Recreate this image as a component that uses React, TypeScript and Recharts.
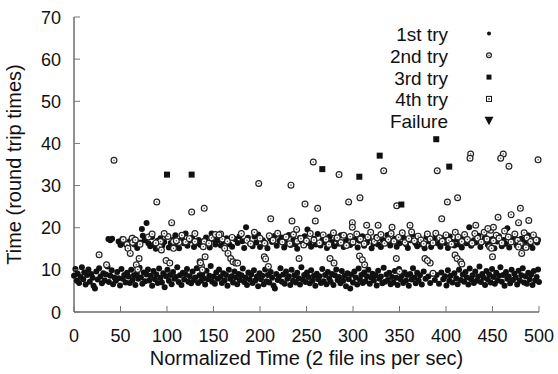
import React from 'react';
import { ScatterChart, Scatter, XAxis, YAxis, Legend, Label } from 'recharts';

type Pt = [number, number];

const xTicks = [0, 50, 100, 150, 200, 250, 300, 350, 400, 450, 500];
const yTicks = [0, 10, 20, 30, 40, 50, 60, 70];
const seriesNames = ['1st try', '2nd try', '3rd try', '4th try', 'Failure'];

// 1st try, lower band (~8 round trips)
const firstTryLow: Pt[] = [
  [0,8.6],[1.5,10.2],[3,7.4],[4,9.1],[5.5,6.9],[7,8.3],[8.5,10.6],[10,7.8],[11,9.4],[12.5,6.5],[14,8.8],[15.5,10.1],[17,7.2],[18.5,9.0],
  [20,8.1],[21,6.2],[22.5,5.6],[24,9.6],[25.5,7.7],[27,10.4],[28.5,8.4],[30,6.8],[31.5,9.2],[33,7.5],[34.5,8.9],[36,10.8],[37.5,7.1],[39,8.6],
  [40.5,9.9],[42,6.6],[43.5,8.2],[45,7.4],[46.5,9.5],[48,8.0],[49.5,6.3],[51,10.2],[52.5,7.9],[54,8.8],[55.5,7.0],[57,9.3],[58.5,8.4],[60,6.9],
  [61.5,10.0],[63,7.6],[64.5,8.7],[66,6.4],[67.5,9.1],[69,7.9],[70.5,10.5],[72,8.2],[73.5,6.7],[75,9.4],[76.5,7.3],[78,8.9],[79.5,10.1],
  [81,7.5],[82.5,8.6],[84,6.2],[85.5,9.7],[87,7.8],[88.5,8.9],[90,6.9],[91.5,10.3],[93,8.1],[94.5,7.0],[96,9.2],[97.5,5.9],[99,8.5],
  [100.5,10.0],[102,7.4],[103.5,8.8],[105,6.6],[106.5,9.5],[108,7.9],[109.5,8.3],[111,10.6],[112.5,7.1],[114,8.7],[115.5,6.4],[117,9.3],[118.5,7.7],
  [120,8.9],[121.5,10.2],[123,7.2],[124.5,8.5],[126,6.8],[127.5,9.6],[129,7.6],[130.5,8.2],[132,10.4],[133.5,6.9],[135,8.7],[136.5,7.4],[138,9.1],[139.5,8.0],
  [141,6.5],[142.5,9.8],[144,7.8],[145.5,8.6],[147,10.9],[148.5,7.2],[150,8.4],[151.5,6.7],[153,9.4],[154.5,7.9],[156,10.1],[157.5,8.3],[159,6.9],
  [160.5,9.2],[162,7.5],[163.5,8.8],[165,6.2],[166.5,10.0],[168,7.9],[169.5,8.5],[171,7.0],[172.5,9.6],[174,8.2],[175.5,6.6],[177,9.0],[178.5,7.6],
  [180,8.7],[181.5,10.3],[183,7.1],[184.5,8.2],[186,6.4],[187.5,9.4],[189,7.7],[190.5,8.9],[192,6.9],[193.5,9.9],[195,7.5],[196.5,8.4],[198,6.1],[199.5,9.2],
  [201,7.8],[202.5,8.6],[204,6.6],[205.5,10.1],[207,7.3],[208.5,8.8],[210,7.0],[211.5,9.5],[213,8.1],[214.5,6.3],[216,5.6],[217.5,9.0],[219,7.6],
  [220.5,8.4],[222,10.4],[223.5,7.2],[225,8.9],[226.5,6.7],[228,9.6],[229.5,7.9],[231,8.5],[232.5,6.4],[234,10.0],[235.5,7.4],[237,8.7],[238.5,7.0],
  [240,9.3],[241.5,8.0],[243,6.5],[244.5,10.6],[246,7.7],[247.5,8.8],[249,7.1],[250.5,9.4],[252,8.3],[253.5,6.8],[255,9.9],[256.5,7.5],[258,8.6],[259.5,6.2],
  [261,9.1],[262.5,7.8],[264,8.5],[265.5,6.9],[267,10.2],[268.5,7.3],[270,8.8],[271.5,6.6],[273,9.5],[274.5,8.0],[276,7.2],[277.5,9.0],[279,6.4],
  [280.5,8.7],[282,10.1],[283.5,7.6],[285,8.3],[286.5,6.8],[288,9.7],[289.5,7.4],[291,8.6],[292.5,6.1],[294,9.2],[295.5,7.8],[297,5.6],[298.5,8.9],
  [300,7.0],[301.5,9.6],[303,8.2],[304.5,6.5],[306,10.3],[307.5,7.7],[309,8.8],[310.5,6.9],[312,9.4],[313.5,7.3],[315,8.5],[316.5,10.0],[318,6.7],[319.5,8.1],
  [321,9.1],[322.5,7.5],[324,8.7],[325.5,6.3],[327,9.8],[328.5,7.9],[330,8.4],[331.5,6.8],[333,10.5],[334.5,7.2],[336,8.9],[337.5,7.6],[339,9.3],
  [340.5,6.6],[342,8.3],[343.5,7.0],[345,9.7],[346.5,8.1],[348,6.4],[349.5,10.2],[351,7.8],[352.5,8.6],[354,6.9],[355.5,9.4],[357,7.4],[358.5,8.8],
  [360,6.2],[361.5,9.0],[363,7.7],[364.5,10.4],[366,8.2],[367.5,6.8],[369,9.3],[370.5,7.5],[372,8.7],[374,6.5],[376,9.6],[378,7.9],
  [381,8.4],[383,6.9],[385.5,9.1],[388,7.6],[390,8.8],[392.5,6.7],[395,9.4],[397,7.8],[399,8.5],
  [400.5,6.3],[402,9.9],[403.5,7.4],[405,8.6],[407,7.0],[409,9.2],[411,8.0],[412.5,6.6],[414,10.0],[416,7.6],[418,8.9],[419.5,7.2],
  [421,9.5],[422.5,8.2],[424,6.5],[425.5,10.3],[427,7.8],[428.5,8.7],[430,6.9],[431.5,9.6],[433,7.4],[434.5,8.4],[436,10.8],[437.5,7.1],[439,9.0],
  [440.5,8.1],[442,6.4],[443.5,9.7],[445,7.7],[446.5,8.9],[448,7.0],[449.5,10.2],[451,8.3],[452.5,6.7],[454,9.3],[455.5,7.5],[457,8.6],[458.5,10.6],
  [460,7.2],[461.5,8.8],[463,6.2],[464.5,9.5],[466,7.9],[467.5,8.4],[469,6.8],[470.5,10.0],[472,7.6],[473.5,9.1],[475,8.2],[476.5,6.5],[478,9.8],[479.5,7.4],
  [481,8.7],[482.5,10.4],[484,7.0],[485.5,8.5],[487,6.7],[488.5,9.3],[490,7.8],[491.5,8.9],[493,6.4],[494.5,9.7],[496,7.5],[497.5,8.3],[499,10.1],[500,7.1],
];

// 1st try, upper band (~16 round trips)
const firstTryHigh: Pt[] = [
  [37,17.3],[39,17.0],[41,17.4],[48,16.7],[50,15.9],[52,17.3],[55,16.2],[58,15.4],[60,16.8],[63,17.6],[65,16.0],[68,15.2],[71,16.5],[73,19.7],[74,18.1],
  [76,17.0],[78,21.1],[80,16.3],[82,15.6],[84,17.8],[86,16.1],[88,15.0],[90,16.9],[93,17.5],[95,15.8],[97,16.6],[100,17.9],[102,15.3],[104,16.4],
  [107,17.2],[109,18.2],[111,16.0],[113,15.1],[116,17.4],[118,16.3],[120,18.6],[122,15.7],[124,16.9],[127,17.6],[129,15.4],[131,16.2],[134,17.1],
  [136,15.9],[139,16.8],[142,17.7],[144,16.4],[146,15.3],[148,18.6],[150,17.2],[152,16.0],[155,17.0],[158,15.8],[161,16.7],[164,17.5],[167,16.1],
  [170,15.5],[173,17.3],[176,16.4],[178,18.0],[181,16.8],[183,15.2],[185,20.1],[187,17.6],[189,16.3],[192,15.6],[194,17.9],[196,16.5],[198,18.4],
  [200,15.4],[203,17.0],[206,16.2],[208,15.1],[211,17.4],[213,16.6],[216,18.1],[218,15.7],[221,16.9],[223,17.7],[226,15.3],[228,16.4],[231,18.3],
  [233,15.9],[236,17.2],[238,16.1],[240,15.0],[243,17.6],[245,16.7],[248,18.0],[251,19.6],[253,16.3],[255,15.5],[258,17.4],[260,16.0],[262,18.5],
  [265,15.8],[267,17.1],[270,16.5],[272,15.2],[275,17.9],[277,16.6],[280,15.6],[282,17.3],[285,16.2],[287,18.2],[290,15.4],[292,16.8],[295,17.6],
  [297,15.9],[300,16.4],[302,17.2],[305,15.3],[307,16.9],[310,18.0],[312,15.7],[315,16.5],[317,17.5],[320,15.1],[322,16.2],[325,17.8],[327,16.0],
  [330,15.4],[332,17.1],[335,16.6],[337,18.3],[340,15.8],[342,16.9],[345,17.4],[347,15.5],[350,16.3],[354,17.7],[357,16.1],[359,15.2],[362,17.0],
  [364,18.4],[367,16.4],[369,15.6],[372,17.3],[374,16.0],[377,15.1],[379,17.8],[382,16.7],[384,15.4],[387,17.1],[389,18.2],[392,16.2],[394,15.5],
  [397,17.5],[399,16.4],[402,15.2],[404,17.9],[407,16.6],[409,15.8],[412,17.2],[414,16.0],[417,15.3],[419,17.6],[422,16.3],[425,20.1],[427,15.7],
  [430,17.0],[432,16.5],[435,18.1],[437,15.4],[440,16.8],[442,17.7],[445,15.9],[447,16.4],[450,17.3],[452,15.1],[455,16.7],[457,18.0],[460,15.6],
  [462,17.1],[464,16.2],[466,19.9],[468,15.3],[471,16.9],[473,17.6],[476,15.8],[478,16.4],[481,17.4],[483,15.5],[486,16.8],[488,18.2],[491,16.0],
  [493,15.2],[496,17.3],[498,16.5],[499,17.1],
];

// 2nd try, on and around the upper band
const secondTryBand: Pt[] = [
  [53,17.2],[57,16.0],[58,15.1],[60.5,13.9],[62.5,17.5],[63,16.5],[66,17.1],[71,16.1],[70,12.7],[67,11.2],[68.5,10.1],
  [93,16.7],[92,15.5],[94,14.7],[99,12.2],[103,11.6],[107,16.7],[107,15.1],[113,16.5],
  [130,16.7],[135.5,11.9],[137,11.0],[138,10.0],[141,13.1],[140,16.7],[139,15.5],[136,11.7],
  [157.7,18.5],[159.5,17.3],[162,15.1],[165.6,13.9],[168.5,12.7],[171,11.9],[174,11.6],
  [80,17.8],[84,18.5],[88,16.4],[101,17.9],[110,16.9],[116,18.2],[120,16.6],[124,17.4],[145,16.3],[148,17.6],[152,18.4],[165,16.8],[170,17.7],
  [180,18.6],[186,17.0],[190,16.2],[194,18.9],[200,17.5],[205,16.3],[210,18.1],[214,17.0],[219,18.7],[224,16.6],[228,17.8],[232,16.2],[236,18.4],
  [240,16.8],[244,17.4],[247,15.9],[250,16.9],[254,18.6],[258,17.1],[264,16.4],[268,18.3],[271,17.2],[274,16.0],[279,18.8],[283,17.6],[287,16.5],
  [290,18.2],[293,15.8],[297,17.9],[300,16.6],[304,18.5],[308,17.3],[312,16.2],[316,17.8],[319,18.9],[323,16.7],[326,17.6],[330,18.4],[334,16.3],
  [338,17.2],[341,18.6],[344,16.8],[349,17.7],[353,18.8],[356,16.5],[360,17.4],[363,19.0],[366,16.9],[370,18.0],[373,17.1],[376,16.2],[380,18.5],
  [383,17.3],[386,16.4],[389,18.7],[393,17.6],[396,16.8],[400,18.3],[403,17.0],[406,16.1],[410,18.9],[413,17.8],[417,16.7],[420,18.4],[423,17.2],
  [428,16.3],[431,18.6],[434,17.5],[438,16.6],[441,18.9],[444,17.3],[448,19.4],[451,16.9],[454,18.2],[457,17.5],[460,16.4],[463,19.2],[467,17.8],
  [470,16.6],[474,18.5],[477,17.0],[480,16.2],[484,18.8],[487,17.6],[491,16.7],[494,18.3],[497,17.1],
  [451,20.1],[432,20.6],[445,19.8],[447,15.5],[449,15.1],[478,15.4],[486,15.3],
];

// 2nd try, scattered points away from the band
const secondTryOutliers: Pt[] = [
  [43,36.0],[89,26.1],[27,13.6],[35,11.2],[105,21.2],[126.5,23.7],[140,24.6],[97,18.6],[130,18.6],[156,18.3],
  [198.6,30.5],[233.3,30.1],[257.3,35.6],[248.4,25.6],[262,24.6],[211.5,22.1],[234.4,21.6],[259.5,21.6],[239.4,19.6],
  [242,12.7],[209,10.8],[204.6,13.1],[206,12.6],[176,11.6],[285,32.6],[333,33.5],[295.3,26.1],[307.5,27.1],[347,25.2],
  [299.3,21.2],[299.3,20.1],[314.7,20.6],[327,20.6],[342,20.1],[346.6,12.7],[350,9.6],[307,13.3],[310,12.4],[312.5,11.2],
  [275.3,12.7],[279.6,11.6],[390.6,33.5],[426.5,37.5],[425.8,36.5],[401.5,26.1],[412.5,27.1],[395.4,22.1],[361.3,20.6],
  [377.4,12.7],[383,11.6],[386,9.2],[380,12.2],[409.7,13.5],[412,12.7],[415.8,11.9],[417,11.4],
  [461.6,37.5],[458.8,36.5],[467.7,34.6],[499,36.1],[480,24.6],[470,23.1],[456,22.5],[478,21.2],[489,21.7],[450,13.1],[481.4,13.9],
];

const thirdTry: Pt[] = [
  [100,32.6],[126.5,32.6],[267,33.9],[306.8,32.1],[328.7,37.1],[352,25.5],[389.5,41.0],[403.5,34.5],
];
const fourthTry: Pt[] = [];
const failure: Pt[] = [];

const toRows = (pts: Pt[]) => pts.map(([x, y]) => ({ x, y }));

const FONT = '"Liberation Sans", Arial, Helvetica, sans-serif';
const TICK_FS = 18;
const TITLE_FS = 20;
const LEGEND_FS = 19;
const TICK = '#777';
const INK = '#111';

const Dot = ({ cx, cy, r = 3 }: any) => <circle cx={cx} cy={cy} r={r} fill={INK} />;
const Ring = ({ cx, cy, r = 2.9 }: any) => (
  <g>
    <circle cx={cx} cy={cy} r={r} fill="#fff" stroke="#222" strokeWidth={1.2} />
    <circle cx={cx} cy={cy} r={0.8} fill="#555" />
  </g>
);
const Square = ({ cx, cy, s = 6 }: any) => <rect x={cx - s / 2} y={cy - s / 2} width={s} height={s} fill={INK} />;
const OpenSquare = ({ cx, cy, s = 6 }: any) => (
  <g>
    <rect x={cx - s / 2} y={cy - s / 2} width={s} height={s} fill="#fff" stroke={INK} strokeWidth={1} />
    <rect x={cx - 0.8} y={cy - 0.8} width={1.6} height={1.6} fill="#444" />
  </g>
);
const Triangle = ({ cx, cy }: any) => <path d={`M${cx - 4.5},${cy - 4}L${cx + 4.5},${cy - 4}L${cx},${cy + 4.5}Z`} fill={INK} />;

const markers = [Dot, Ring, Square, OpenSquare, Triangle];

const BottomTick = ({ x, y, payload }: any) => (
  <g>
    <line x1={x} y1={y} x2={x} y2={y - 6} stroke={TICK} />
    <text x={x} y={y + 30} textAnchor="middle" fontSize={TICK_FS} fontFamily={FONT} fill={INK}>{payload.value}</text>
  </g>
);
const TopTick = ({ x, y }: any) => <line x1={x} y1={y} x2={x} y2={y + 6} stroke={TICK} />;
const LeftTick = ({ x, y, payload }: any) => (
  <g>
    <line x1={x} y1={y} x2={x + 6} y2={y} stroke={TICK} />
    <text x={x - 13} y={y + 6.5} textAnchor="end" fontSize={TICK_FS} fontFamily={FONT} fill={INK}>{payload.value}</text>
  </g>
);
const RightTick = ({ x, y }: any) => <line x1={x} y1={y} x2={x - 6} y2={y} stroke={TICK} />;

const renderLegend = () => (
  <svg width={558} height={140} style={{ display: 'block' }}>
    {seriesNames.map((name, i) => {
      const cy = 33.5 + i * 21.8;
      const M = markers[i];
      return (
        <g key={name}>
          <text x={448} y={cy + 7.5} textAnchor="end" fontSize={LEGEND_FS} fontFamily={FONT} fill={INK}>{name}</text>
          {i === 0 ? <M cx={489} cy={cy} r={2} /> : i === 1 ? <M cx={489} cy={cy} r={2.4} /> : <M cx={489} cy={cy} s={5} />}
        </g>
      );
    })}
  </svg>
);

export default function App() {
  const first = toRows([...firstTryLow, ...firstTryHigh]);
  const second = toRows([...secondTryBand, ...secondTryOutliers]);
  return (
    <div style={{ position: 'absolute', left: 0, top: 0, width: 558, height: 374, background: '#fff' }}>
      <ScatterChart width={558} height={374} margin={{ top: 17, right: 19, bottom: 0, left: 0 }}>
        <XAxis xAxisId="b" dataKey="x" type="number" domain={[0, 500]} ticks={xTicks} interval={0} height={62}
          tickSize={0} tickMargin={0} tickLine={false} tick={<BottomTick />} axisLine={{ stroke: '#222' }}>
          <Label
            content={() => (
              <text x={306.5} y={365} textAnchor="middle" fontSize={TITLE_FS} fontFamily={FONT} fill={INK}>
                Normalized Time (2 file ins per sec)
              </text>
            )}
          />
        </XAxis>
        <XAxis xAxisId="t" orientation="top" dataKey="x" type="number" domain={[0, 500]} ticks={xTicks} interval={0} height={0}
          tickSize={0} tickMargin={0} tickLine={false} tick={<TopTick />} axisLine={{ stroke: '#222' }} />
        <YAxis yAxisId="l" dataKey="y" type="number" domain={[0, 70]} ticks={yTicks} interval={0} width={74}
          tickSize={0} tickMargin={0} tickLine={false} tick={<LeftTick />} axisLine={{ stroke: '#222' }}>
          <Label
            content={() => (
              <text x={21} y={164.5} transform="rotate(-90 21 164.5)" textAnchor="middle" fontSize={TITLE_FS} fontFamily={FONT} fill={INK}>
                Time (round trip times)
              </text>
            )}
          />
        </YAxis>
        <YAxis yAxisId="r" orientation="right" dataKey="y" type="number" domain={[0, 70]} ticks={yTicks} interval={0} width={0}
          tickSize={0} tickMargin={0} tickLine={false} tick={<RightTick />} axisLine={{ stroke: '#222' }} />
        <Legend content={renderLegend} layout="horizontal" verticalAlign="middle" align="center"
          wrapperStyle={{ left: 0, top: 0, width: 558, height: 140 }} />
        <Scatter name="1st try" xAxisId="b" yAxisId="l" data={first} shape={<Dot />} isAnimationActive={false} />
        <Scatter name="2nd try" xAxisId="b" yAxisId="l" data={second} shape={<Ring />} isAnimationActive={false} />
        <Scatter name="3rd try" xAxisId="b" yAxisId="l" data={toRows(thirdTry)} shape={<Square />} isAnimationActive={false} />
        <Scatter name="4th try" xAxisId="t" yAxisId="r" data={toRows(fourthTry)} shape={<OpenSquare />} isAnimationActive={false} />
        <Scatter name="Failure" xAxisId="t" yAxisId="r" data={toRows(failure)} shape={<Triangle />} isAnimationActive={false} />
      </ScatterChart>
    </div>
  );
}
